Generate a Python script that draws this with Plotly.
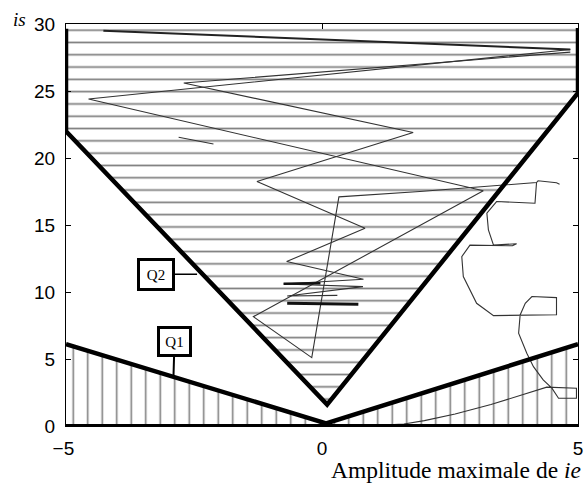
import plotly.graph_objects as go

# ---- data ----
# Q1 boundary (thick V near the bottom)
q1_x = [-5, 0.08, 5]
q1_y = [6.1, 0.2, 6.1]
# Q2 boundary (thick V with vertical sides)
q2_x = [-5, -5, 0.1, 5, 5]
q2_y = [29.65, 22.0, 1.6, 24.85, 29.7]

# trajectories
traj_top_x = [-4.27, 4.85]
traj_top_y = [29.5, 28.1]

traj_a_x = [4.85, -4.56, 3.15, -1.34, -0.2, 0.33, 1.91, 4.19, 4.22, 4.58, 4.64]
traj_a_y = [28.1, 24.4, 17.55, 8.16, 5.1, 17.1, 17.5, 18.17, 18.3, 18.15, 18.05]

traj_b_x = [4.85, -2.7, 1.78, -1.27, 0.84, -0.69, 0.81, -0.75, 0.8, -0.68, 0.3]
traj_b_y = [27.9, 25.6, 21.9, 18.25, 14.76, 12.27, 10.95, 10.6, 10.4, 9.7, 9.75]

seg_short_x = [-2.8, -2.12]
seg_short_y = [21.55, 21.05]

seg_thick1_x = [-0.75, -0.03]
seg_thick1_y = [10.62, 10.66]
seg_thick2_x = [-0.68, 0.71]
seg_thick2_y = [9.16, 9.09]

traj_c_x = [4.19, 4.16, 3.41, 3.22, 3.25, 3.35, 3.8, 3.72, 2.89, 2.73, 2.76, 3.02, 3.35,
            4.58, 4.58, 4.10, 3.97, 3.87, 3.84, 4.0, 4.13, 4.32, 4.49, 4.62, 4.97, 4.97,
            4.39, 3.9, 3.3, 2.6, 2.0, 1.6, 1.0]
traj_c_y = [18.17, 16.62, 16.75, 15.89, 14.64, 13.5, 13.6, 13.45, 13.5, 12.64, 11.15, 9.16, 8.24,
            8.3, 9.58, 9.66, 9.16, 8.29, 6.92, 5.43, 4.43, 3.44, 2.82, 2.07, 2.07, 2.82,
            2.9, 2.3, 1.6, 0.9, 0.4, 0.15, 0.03]

x_ticks = [-5, 0, 5]
x_tick_labels = ["\u22125 ", "0", "5"]
y_ticks = [0, 5, 10, 15, 20, 25, 30]

SERIF = "Liberation Serif, Times New Roman, serif"
SANS = "Liberation Sans, Arial, sans-serif"

fig = go.Figure()

# hatched Q2 region (horizontal lines)
fig.add_trace(go.Scatter(
    x=q2_x + [q2_x[0]], y=q2_y + [q2_y[0]], mode="none", fill="toself",
    fillcolor="rgba(0,0,0,0)",
    fillpattern=dict(shape="-", size=12.3, solidity=0.14, fgcolor="#000",
                     bgcolor="rgba(0,0,0,0)"),
    hoverinfo="skip", showlegend=False))

# hatched Q1 region (vertical lines)
fig.add_trace(go.Scatter(
    x=q1_x + [q1_x[-1], q1_x[0], q1_x[0]], y=q1_y + [0, 0, q1_y[0]],
    mode="none", fill="toself", fillcolor="rgba(0,0,0,0)",
    fillpattern=dict(shape="|", size=14.5, solidity=0.11, fgcolor="#000",
                     bgcolor="rgba(0,0,0,0)"),
    hoverinfo="skip", showlegend=False))

thin = dict(color="#333", width=1.1)
for xs, ys, ln in [
    (traj_a_x, traj_a_y, thin),
    (traj_b_x, traj_b_y, thin),
    (traj_c_x, traj_c_y, thin),
    (seg_short_x, seg_short_y, thin),
    (traj_top_x, traj_top_y, dict(color="#222", width=2)),
    (seg_thick1_x, seg_thick1_y, dict(color="#111", width=2.5)),
    (seg_thick2_x, seg_thick2_y, dict(color="#111", width=3)),
]:
    fig.add_trace(go.Scatter(x=xs, y=ys, mode="lines", line=ln,
                             hoverinfo="skip", showlegend=False, cliponaxis=False))

# thick boundaries
fig.add_trace(go.Scatter(x=q2_x, y=q2_y, mode="lines",
                         line=dict(color="black", width=4.5),
                         hoverinfo="skip", showlegend=False, cliponaxis=False))
fig.add_trace(go.Scatter(x=q1_x, y=q1_y, mode="lines",
                         line=dict(color="black", width=4.5),
                         hoverinfo="skip", showlegend=False, cliponaxis=False))
fig.add_trace(go.Scatter(x=[q1_x[0], q1_x[-1]], y=[0, 0], mode="lines",
                         line=dict(color="black", width=4),
                         hoverinfo="skip", showlegend=False, cliponaxis=False))

fig.update_xaxes(range=[-5, 5], tickvals=x_ticks, ticktext=x_tick_labels,
                 ticks="inside", ticklen=5, tickcolor="black",
                 showline=True, linecolor="black", linewidth=1, mirror="ticks",
                 showgrid=False, zeroline=False, ticklabelstandoff=5, automargin=False,
                 tickfont=dict(family=SANS, size=19, color="black"))
fig.update_yaxes(range=[0, 30], tickvals=y_ticks,
                 ticks="inside", ticklen=5, tickcolor="black",
                 showline=True, linecolor="black", linewidth=1, mirror="ticks",
                 showgrid=False, zeroline=False, ticklabelstandoff=6, automargin=False,
                 tickfont=dict(family=SANS, size=19, color="black"))

annotations = [
    dict(text="<i>is</i>", x=-0.108, y=1.043, xref="paper", yref="paper",
         showarrow=False, font=dict(family=SERIF, size=19, color="black")),
    dict(text="Amplitude maximale de <i>ie</i>", x=1.009, y=-0.11,
         xref="paper", yref="paper", xanchor="right", yanchor="middle",
         showarrow=False, font=dict(family=SERIF, size=23.5, color="black")),
    dict(text="Q2", x=-2.44, y=11.33, xref="x", yref="y", showarrow=True,
         arrowhead=0, arrowwidth=1.5, arrowcolor="black", ax=-41.5, ay=0,
         width=30, height=25, borderpad=1, borderwidth=3, bordercolor="black",
         bgcolor="white", font=dict(family=SERIF, size=15, color="black")),
    dict(text="Q1", x=-2.9, y=3.8, xref="x", yref="y", showarrow=True,
         arrowhead=0, arrowwidth=2, arrowcolor="black", ax=1, ay=-34,
         width=27, height=23, borderpad=1, borderwidth=3, bordercolor="black",
         bgcolor="white", font=dict(family=SERIF, size=15, color="black")),
]

fig.update_layout(width=587, height=488,
                  margin=dict(l=66, r=9, t=24, b=62, autoexpand=False),
                  paper_bgcolor="white", plot_bgcolor="white",
                  annotations=annotations, showlegend=False)

# remove the default page margin so the 587x488 figure fills the window exactly
fig.write_html("out.html",
               config={"displayModeBar": False, "staticPlot": True},
               post_script="document.body.style.margin='0';"
                           "document.body.style.overflow='hidden';")
